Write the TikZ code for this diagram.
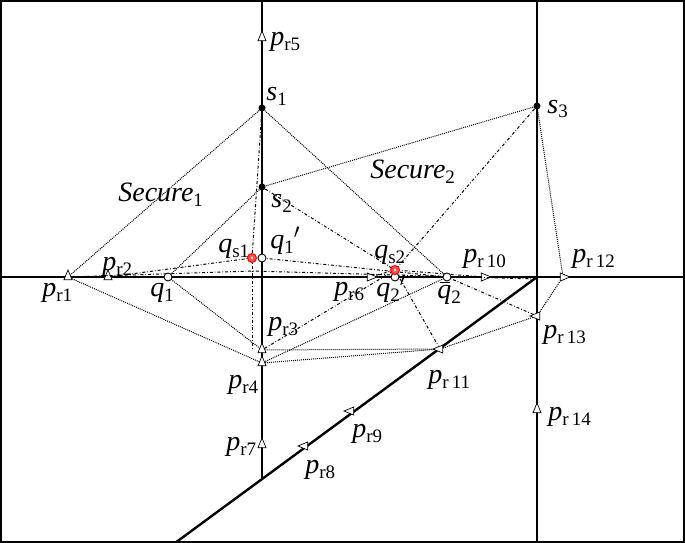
\documentclass[tikz,border=0pt]{standalone}
\usepackage{fontspec}
\setmainfont{Liberation Serif}
\usetikzlibrary{arrows.meta,shapes.geometric}
\newcommand{\sym}[2]{\textit{#1}{\fontsize{19}{20}\selectfont\raisebox{-5pt}{#2}}}
\begin{document}
\begin{tikzpicture}[x=1pt,y=-1pt,
                    font=\fontsize{28}{30}\selectfont,
                    line width=0.7pt]
    \tikzstyle{road}=[line width=2.4pt]
    \tikzstyle{sec}=[densely dotted, line width=1pt]
    \tikzstyle{path}=[dash dot, line width=1pt]
    \tikzstyle{relay}=[isosceles triangle, draw, fill=white, inner sep=0pt, minimum size=8pt, line width=0.7pt]
    \tikzstyle{site}=[circle, fill=black, inner sep=0pt, minimum size=7pt]
    \tikzstyle{cand}=[circle, draw, fill=white, inner sep=0pt, minimum size=8pt, line width=0.9pt]
    \tikzstyle{best}=[circle, draw=red, fill=red!70, inner sep=0pt, minimum size=9pt, line width=1pt]
    \tikzstyle{lab}=[inner sep=0pt, anchor=base west]

    \useasboundingbox (0,0) rectangle (685,543);
    \draw[road] (1,1) rectangle (684,542);

    % roads
    \coordinate (w) at (0,277);
    \coordinate (e) at (685,277);
    \coordinate (x) at (537,277);
    \coordinate (foot) at (262,479);
    \draw[road] (w) -- (e);
    \draw[road] (262,1) -- (foot);
    \draw[road] (537,1) -- (537,542);
    \draw[road] (x) -- (175,543);

    % sites and points
    \node[site] (s1) at (262,108) {};
    \node[site] (s2) at (262,187) {};
    \node[site] (s3) at (537,106) {};
    \node[relay, shape border rotate=90] (pr1) at (68,277) {};
    \node[relay, shape border rotate=90] (pr2) at (108,277) {};
    \node[relay, shape border rotate=90] (pr3) at (262,350) {};
    \node[relay, shape border rotate=90] (pr4) at (262,363) {};
    \node[relay, shape border rotate=90] (pr5) at (262,38) {};
    \node[relay, shape border rotate=0] (pr6) at (370,277) {};
    \node[relay, shape border rotate=90] (pr7) at (262,445) {};
    \node[relay, shape border rotate=216] (pr8) at (305,446) {};
    \node[relay, shape border rotate=216] (pr9) at (351,411) {};
    \node[relay, shape border rotate=0] (pr10) at (484,277) {};
    \node[relay, shape border rotate=216] (pr11) at (440,349) {};
    \node[relay, shape border rotate=0] (pr12) at (563,277) {};
    \node[relay, shape border rotate=180] (pr13) at (537,316) {};
    \node[relay, shape border rotate=90] (pr14) at (537,410) {};

    % secure regions
    \draw[sec] (s1) -- (pr1) -- (pr4) -- (pr11) -- (pr13) -- (pr12) -- (s3) -- (s2);
    \draw[sec] (s1) -- (447,277) -- (pr4);
    \draw[sec] (s2) -- (168,277) -- (pr3) -- (pr11);

    % routes
    \draw[path] (s1) -- (252,258) -- (pr2);
    \draw[path] (pr1) -- (252,271) -- (537,279);
    \draw[path] (262,258) -- (447,277) -- (pr13);
    \draw[path] (s2) -- (395,270) -- (pr6);
    \draw[path] (s3) -- (395,270) -- (pr11);
    \draw[path] (pr3) -- (395,270) -- (pr10);
    \draw[path] (252,258) -- (252,350);

    \node[cand] (q1) at (168,277) {};
    \node[cand] (q1p) at (262,258) {};
    \node[cand] (q2p) at (395,277) {};
    \node[cand] (q2b) at (447,277) {};
    \node[best] (qs1) at (252,258) {};
    \node[best] (qs2) at (395,270) {};
    \fill[white] (qs1) circle (1.3pt) (qs2) circle (1.3pt);

    % labels
    \node[lab] at (42,296) {\sym{p}{r1}};
    \node[lab] at (102,270) {\sym{p}{r2}};
    \node[lab] at (268,330) {\sym{p}{r3}};
    \node[lab] at (228,388) {\sym{p}{r4}};
    \node[lab] at (270,46) {\sym{p}{r5}};
    \node[lab] at (334,295) {\sym{p}{r6}};
    \node[lab] at (226,450) {\sym{p}{r7}};
    \node[lab] at (305,473) {\sym{p}{r8}};
    \node[lab] at (352,437) {\sym{p}{r9}};
    \node[lab] at (463,262) {\sym{p}{r\,10}};
    \node[lab] at (428,383) {\sym{p}{r\,11}};
    \node[lab] at (572,262) {\sym{p}{r\,12}};
    \node[lab] at (543,338) {\sym{p}{r\,13}};
    \node[lab] at (548,420) {\sym{p}{r\,14}};
    \node[lab] at (266,100) {\sym{s}{1}};
    \node[lab] at (271,207) {\sym{s}{2}};
    \node[lab] at (547,113) {\sym{s}{3}};
    \node[lab] at (150,296) {\sym{q}{1}};
    \node[lab] at (270,248) {\sym{q}{1}$'$};
    \node[lab] at (218,252) {\sym{q}{s1}};
    \node[lab] at (374,258) {\sym{q}{s2}};
    \node[lab] at (376,296) {\sym{q}{2}$'$};
    \node[lab] at (437,298) {\sym{q\llap{\rule[15pt]{10pt}{1pt}\hspace{1pt}}}{2}};
    \node[lab] at (118,201) {\sym{Secure}{1}};
    \node[lab] at (370,178) {\sym{Secure}{2}};
\end{tikzpicture}
\end{document}
